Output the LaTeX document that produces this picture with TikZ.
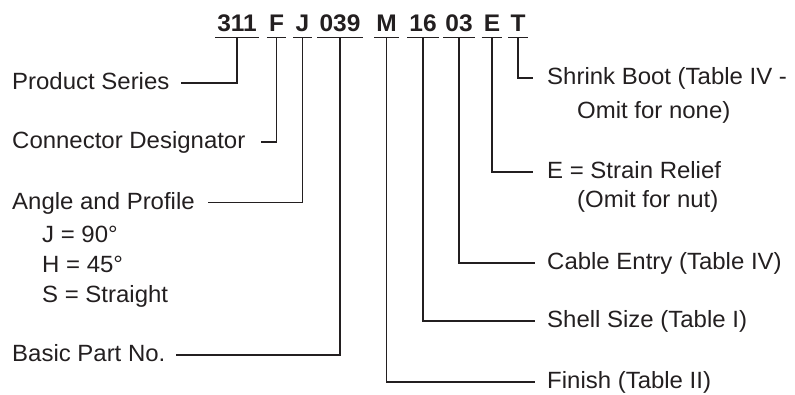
\documentclass[tikz,border=0pt]{standalone}
\usepackage{fontspec}
\setmainfont[FakeStretch=1.02]{Liberation Sans}
\definecolor{ink}{HTML}{231F20}
\begin{document}
\begin{tikzpicture}[x=1pt,y=-1pt,
  tok/.style={font=\fontsize{24}{28}\selectfont\bfseries, text=ink, inner xsep=2pt, inner ysep=0pt, anchor=base},
  lbl/.style={font=\fontsize{23.5}{28}\selectfont, text=ink, inner sep=0pt, text height=17pt, text depth=4pt, anchor=west},
  sub/.style={font=\fontsize{23.5}{28}\selectfont, text=ink, inner sep=0pt, anchor=base west},
  wire/.style={line width=1.8pt, draw=ink}]
\useasboundingbox (0,0) rectangle (795,394);
\coordinate (ul) at (0,37.5);
% header tokens
\node[tok] (t311) at (237,31) {311};
\node[tok] (tF) at (276.5,31) {F};
\node[tok] (tJ) at (302.5,31) {J};
\node[tok] (t039) at (340,31) {039};
\node[tok] (tM) at (386.5,31) {M};
\node[tok] (t16) at (423,31) {16};
\node[tok] (t03) at (459,31) {03};
\node[tok] (tE) at (492,31) {E};
\node[tok] (tT) at (518,31) {T};
\foreach \t in {t311,tF,tJ,t039,tM,t16,t03,tE,tT}
  \draw[wire] (\t.west |- ul) -- (\t.east |- ul);
% left labels
\node[lbl] (ps) at (12,82.7) {Product Series};
\node[lbl] (cd) at (12,142) {Connector Designator};
\node[lbl] (ap) at (12,202.5) {Angle and Profile};
\node[sub] (j90) at (42,242) {J = 90°};
\node[sub] (h45) at (42,272) {H = 45°};
\node[sub] (sst) at (42,302) {S = Straight};
\node[lbl] (bp) at (12,355) {Basic Part No.};
% right labels
\node[lbl] (sb) at (547,78.3) {Shrink Boot (Table IV -};
\node[sub] (onone) at (577,118) {Omit for none)};
\node[lbl] (er) at (547,171.7) {E = Strain Relief};
\node[sub] (onut) at (577,207.5) {(Omit for nut)};
\node[lbl] (ce) at (547,263) {Cable Entry (Table IV)};
\node[lbl] (ss) at (547,321) {Shell Size (Table I)};
\node[lbl] (fin) at (547,382) {Finish (Table II)};
% connectors
\draw[wire] (t311 |- ul) |- ([xshift=11pt]ps.east);
\draw[wire] (tF |- ul) |- ([xshift=15pt]cd.east);
\draw[wire] (tJ |- ul) |- ([xshift=13pt]ap.east);
\draw[wire] (t039 |- ul) |- ([xshift=10pt]bp.east);
\draw[wire] (tM |- ul) |- ([xshift=-12pt]fin.west);
\draw[wire] (t16 |- ul) |- ([xshift=-12pt]ss.west);
\draw[wire] (t03 |- ul) |- ([xshift=-12pt]ce.west);
\draw[wire] (tE |- ul) |- ([xshift=-14pt]er.west);
\draw[wire] (tT |- ul) |- ([xshift=-14pt]sb.west);
\end{tikzpicture}
\end{document}
